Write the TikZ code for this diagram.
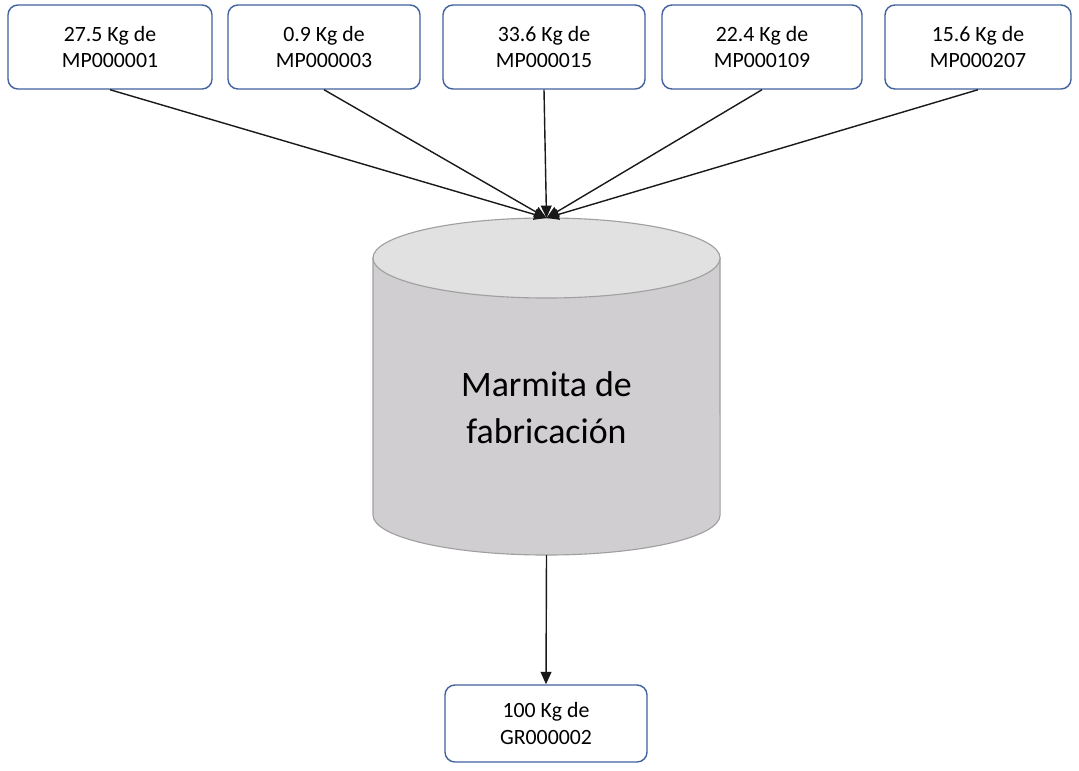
\documentclass[tikz,border=0pt]{standalone}
\usepackage{fontspec}
\setmainfont{Carlito}
\usetikzlibrary{arrows.meta,positioning,calc}

\definecolor{boxblue}{RGB}{66,98,158}
\definecolor{kettlebody}{RGB}{208,206,208}
\definecolor{kettletop}{RGB}{225,225,225}
\definecolor{kettleline}{RGB}{160,160,160}

\begin{document}
\begin{tikzpicture}[x=0.025cm, y=-0.025cm, >={Triangle[length=3.1mm,width=2.7mm]},
    matbox/.style={draw=boxblue, line width=1pt, fill=white, rounded corners=0.25cm,
      minimum height=2.1cm, align=center, font=\fontsize{15.5}{19}\selectfont},
    flow/.style={->, line width=1pt, black!90}]
        \useasboundingbox (0,0) rectangle (1079,770);
        % kettle: body, then lid on top
        \fill[kettlebody, draw=kettleline, line width=0.8pt]
          (373,258) -- (373,515) arc[start angle=180, end angle=360, x radius=4.3375cm, y radius=1cm]
          -- (720,258) -- cycle;
        \fill[kettletop, draw=kettleline, line width=0.8pt] (546.5,258) ellipse [x radius=4.3375cm, y radius=1cm];
        \coordinate (top) at (546.5,218);
        \coordinate (bottom) at (546.5,555);
        \node[align=center, font=\fontsize{25.5}{33.5}\selectfont] (kettle) at (546.5,408) {Marmita de\\fabricación};
        % raw materials going in
        \foreach \n/\x/\w/\q/\c in {mpa/110/5.1cm/27.5/MP000001, mpb/324/4.8cm/0.9/MP000003,
            mpc/544/5.05cm/33.6/MP000015, mpd/762/5.0cm/22.4/MP000109, mpe/978/4.65cm/15.6/MP000207}
          {\node[matbox, minimum width=\w] (\n) at (\x,47) {\q{} Kg de\\\c};
           \draw[flow] (\n.south) -- (top);}
        % product coming out
        \node[matbox, minimum width=5.05cm, minimum height=1.925cm] (gr) at (546,723.5) {100 Kg de\\GR000002};
        \draw[flow] (bottom) -- (gr.north);
      \end{tikzpicture}
\end{document}
